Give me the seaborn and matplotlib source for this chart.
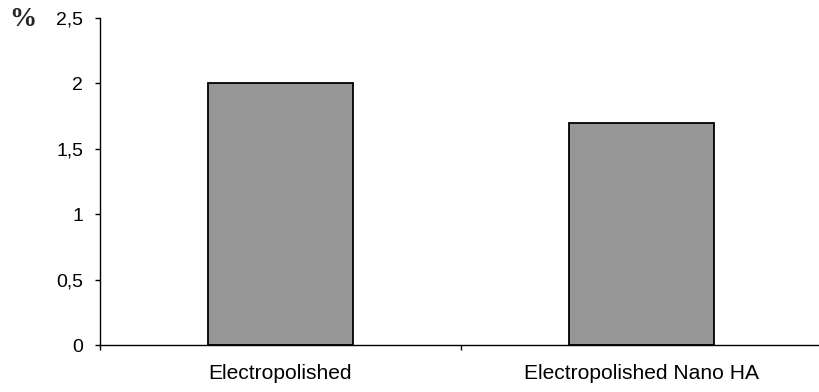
import matplotlib
matplotlib.use("Agg")
import matplotlib.pyplot as plt
from matplotlib.ticker import FixedLocator, FuncFormatter
import seaborn as sns
import pandas as pd

categories = ["Electropolished", "Electropolished Nano HA"]
values = [2.0, 1.7]
y_ticks = [0, 0.5, 1, 1.5, 2, 2.5]

sns.set_style("white")
plt.rcParams["font.family"] = ["Liberation Sans", "DejaVu Sans"]

df = pd.DataFrame({"sample": categories, "value": values})

fig = plt.figure(figsize=(8.2, 3.92), dpi=100)
ax = fig.add_axes([100 / 820, 1 - 345 / 392, 722 / 820, 327 / 392])

sns.barplot(data=df, x="sample", y="value", color="#969696", saturation=1,
            edgecolor="black", linewidth=1.3, width=0.4, ax=ax)

ax.set_xlim(-0.5, 1.5)
ax.set_ylim(0, 2.5)
ax.set_yticks(y_ticks)
ax.yaxis.set_major_formatter(FuncFormatter(lambda v, _: f"{v:g}".replace(".", ",")))

ax.set_xlabel("")
ax.set_ylabel("")

# category boundaries carry the tick marks, labels sit centred without marks
ax.xaxis.set_minor_locator(FixedLocator([-0.5, 0.5, 1.5]))
ax.tick_params(axis="x", which="major", length=0, pad=14, labelsize=15.1, colors="black")
ax.tick_params(axis="x", which="minor", bottom=True, length=3.6, width=1, color="black", direction="out")
ax.tick_params(axis="y", which="major", left=True, length=3.6, width=1, pad=8.6,
               labelsize=14, colors="black", direction="out")

for side in ["top", "right"]:
    ax.spines[side].set_visible(False)
for side in ["left", "bottom"]:
    ax.spines[side].set_color("black")
    ax.spines[side].set_linewidth(1)

fig.text(23 / 820, 1 - 20 / 392, "%", fontsize=19.5, fontweight="bold",
         family=["Liberation Serif", "DejaVu Serif"], ha="center", va="center")

fig.savefig("out.png", dpi=100)
